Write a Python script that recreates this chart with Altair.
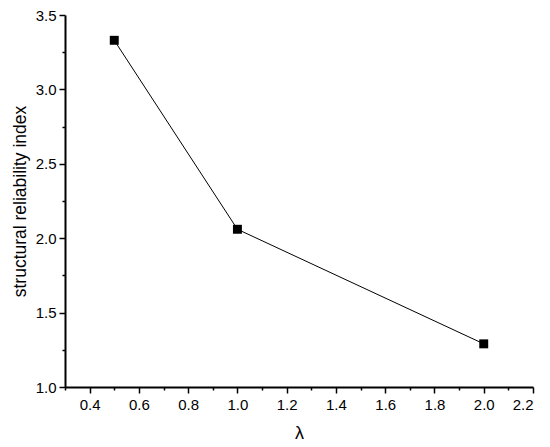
import altair as alt
import pandas as pd

lam = [0.5, 1.0, 2.0]
beta = [3.33, 2.06, 1.29]

x_major = [0.4, 0.6, 0.8, 1.0, 1.2, 1.4, 1.6, 1.8, 2.0, 2.2]
x_minor = [0.3, 0.5, 0.7, 0.9, 1.1, 1.3, 1.5, 1.7, 1.9, 2.1]
y_major = [1.0, 1.5, 2.0, 2.5, 3.0, 3.5]
y_minor = [1.25, 1.75, 2.25, 2.75, 3.25]

df = pd.DataFrame({"lam": lam, "beta": beta})

FONT = "Liberation Sans"
xs = alt.Scale(domain=[0.3, 2.2], nice=False, zero=False)
ys = alt.Scale(domain=[1.0, 3.5], nice=False, zero=False)

minor = alt.Chart(df).mark_point(opacity=0).encode(
    x=alt.X("lam:Q", scale=xs, axis=alt.Axis(orient="bottom", values=x_minor, labels=False, domain=False,
                                              tickSize=3, tickColor="black", tickWidth=1.5,
                                              grid=False, title=None)),
    y=alt.Y("beta:Q", scale=ys, axis=alt.Axis(orient="left", values=y_minor, labels=False, domain=False,
                                               tickSize=3, tickColor="black", tickWidth=1.5,
                                               grid=False, title=None)),
)

line = alt.Chart(df).mark_line(color="black", strokeWidth=1).encode(
    x=alt.X("lam:Q", scale=xs, axis=alt.Axis(orient="bottom", values=x_major, format=".1f", tickSize=6,
                                              tickColor="black", tickWidth=1.5, domainColor="black",
                                              domainWidth=2, grid=False, labelFont=FONT,
                                              labelFontSize=15, labelColor="black", labelPadding=4,
                                              title="λ", titleFont=FONT, titleFontSize=18,
                                              titleFontWeight="normal", titleColor="black",
                                              titlePadding=12)),
    y=alt.Y("beta:Q", scale=ys, axis=alt.Axis(orient="left", values=y_major, format=".1f", tickSize=6,
                                               tickColor="black", tickWidth=1.5, domainColor="black",
                                               domainWidth=2, grid=False, labelFont=FONT,
                                               labelFontSize=15, labelColor="black", labelPadding=3,
                                               title="structural reliability index", titleFont=FONT,
                                               titleFontSize=17.5, titleFontWeight="normal",
                                               titleColor="black", titlePadding=6)),
)

pts = alt.Chart(df).mark_square(size=80, color="black", opacity=1).encode(
    x=alt.X("lam:Q", scale=xs, axis=None), y=alt.Y("beta:Q", scale=ys, axis=None)
)

chart = alt.layer(minor, line, pts).resolve_axis(x="independent", y="independent").properties(
    width=468, height=372,
    autosize=alt.AutoSizeParams(type="none"),
    padding={"left": 57, "top": 7, "right": 9, "bottom": 60},
).configure_view(stroke=None)

chart.save("out.html", embed_options={"renderer": "svg", "actions": False})
